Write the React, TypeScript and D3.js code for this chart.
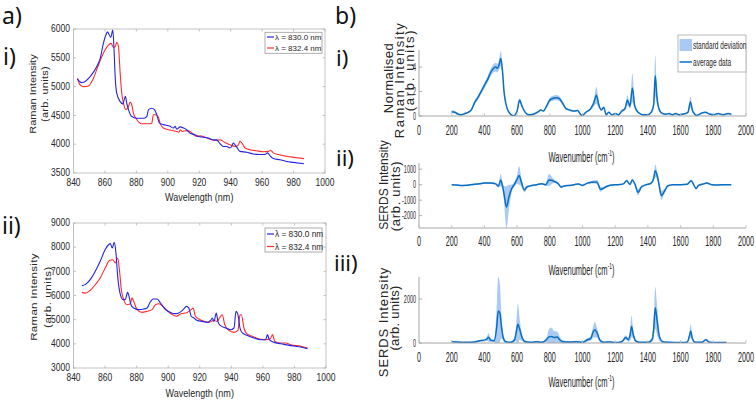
import React from "react";
import * as d3 from "d3";

const FONT = "'Liberation Sans', Arial, sans-serif";
const BIG = "'Noto Sans', 'Open Sans', sans-serif";

// ---------- data: panel a ----------
const A_XTICKS = [840, 860, 880, 900, 920, 940, 960, 980, 1000];
const A1_YTICKS = [3500, 4000, 4500, 5000, 5500, 6000];
const A2_YTICKS = [3000, 4000, 5000, 6000, 7000, 8000, 9000];
const LEGEND_A = ["λ = 830.0 nm", "λ = 832.4 nm"];
const X_LABEL_A = "Wavelength (nm)";

// a-i, excitation 830.0 nm  [wavelength nm, intensity]
const A1_BLUE: [number, number][] = [
  [842.5, 5130], [845.3, 5070], [850.6, 5175], [854.8, 5350], [857, 5490], [859, 5750],
  [860.8, 5910], [861.6, 5950], [863.7, 5855], [865, 5980], [865.8, 5640], [866.5, 5175],
  [867.5, 4885], [869.7, 4740], [871.4, 4700], [872.2, 4770], [873, 4830], [873.9, 4710],
  [875, 4600], [876.7, 4490], [880.3, 4450], [884.5, 4450], [886.6, 4480], [887.7, 4600],
  [889.8, 4625], [891.5, 4600], [893, 4510], [894.7, 4365], [897.2, 4340], [901.4, 4310],
  [903.6, 4280], [904.6, 4310], [905.7, 4260], [907.8, 4300], [910, 4280], [912, 4250],
  [914.2, 4190], [917.3, 4165], [919.4, 4135], [922.6, 4120], [925.8, 4105], [929, 4075],
  [931, 4075], [933.2, 4010], [935.3, 3960], [937.5, 3960], [939.6, 3935], [940.6, 3960],
  [941.7, 4020], [942.8, 3990], [944.2, 3935], [945.9, 3875], [950.2, 3860], [954.4, 3830],
  [958.6, 3820], [961.8, 3820], [963.5, 3850], [965, 3800], [967.1, 3750], [971.4, 3730],
  [975.6, 3700], [979.8, 3685], [986.6, 3660],
];
// a-i, excitation 832.4 nm
const A1_RED: [number, number][] = [
  [842.5, 5145], [844.2, 5030], [846.4, 5000], [849.5, 5010], [852.7, 5145], [855.9, 5380],
  [859, 5580], [862.2, 5720], [863.9, 5750], [865.4, 5680], [866.5, 5690], [867.5, 5770],
  [868.6, 5690], [869.7, 5230], [870.7, 4885], [871.8, 4710], [873.5, 4600], [875, 4655],
  [876, 4730], [877.1, 4680], [878.1, 4540], [880.3, 4425], [883.4, 4355], [886.6, 4355],
  [889.8, 4365], [890.8, 4510], [892.5, 4510], [894, 4470], [895.1, 4365], [897.2, 4280],
  [900.4, 4250], [903.6, 4235], [905.7, 4220], [907.2, 4210], [907.8, 4250], [909.3, 4220],
  [912, 4235], [914.2, 4220], [916.3, 4165], [918.4, 4135], [920.5, 4145], [923.7, 4120],
  [926.9, 4090], [930, 4065], [933.2, 4075], [936.4, 4030], [939.6, 3990], [942.8, 3960],
  [944.9, 3990], [945.9, 4050], [947.4, 4010], [949.1, 3935], [952.3, 3905], [956.5, 3885],
  [960.8, 3870], [963.9, 3875], [965.4, 3895], [967.1, 3850], [970.3, 3820], [975.6, 3790],
  [980.9, 3770], [986.6, 3750],
];
// a-ii, excitation 830.0 nm
const A2_BLUE: [number, number][] = [
  [845.3, 6407], [847.4, 6450], [850.6, 6655], [853.8, 7000], [856.9, 7415], [860.1, 7900],
  [862.2, 8100], [863.3, 8145], [864.6, 7965], [865.8, 8200], [866.9, 7760], [868, 6790],
  [869.7, 6035], [871.4, 5830], [872.8, 5830], [874.3, 6130], [875.2, 5965], [876.4, 5620],
  [878.1, 5480], [881.3, 5415], [884.5, 5440], [886.6, 5480], [888.3, 5690], [890.4, 5855],
  [893, 5855], [895.1, 5690], [898.3, 5415], [901.4, 5300], [904.6, 5250], [906.7, 5275],
  [909.5, 5415], [911.6, 5550], [913.1, 5480], [914.6, 5140], [916.3, 5070], [918.4, 4970],
  [921.6, 4930], [924.7, 4890], [926.9, 4970], [928, 5070], [929, 4930], [930.5, 5275],
  [931.5, 4930], [933.2, 4750], [936.4, 4655], [939.6, 4585], [941.7, 4655], [943, 5345],
  [944.2, 5205], [945.5, 4655], [947, 4450], [950.2, 4340], [954.4, 4240], [958.6, 4170],
  [961.8, 4170], [962.9, 4380], [964.1, 4170], [967.1, 4060], [971.4, 4005], [977.7, 3925],
  [984.1, 3870], [988.3, 3800],
];
// a-ii, excitation 832.4 nm
const A2_RED: [number, number][] = [
  [845.3, 6130], [847.4, 6100], [850.6, 6215], [853.8, 6450], [856.9, 6725], [860.1, 7140],
  [862.9, 7455], [865, 7480], [866.5, 7345], [868, 7550], [869.2, 7000], [870.3, 6240],
  [871.8, 5830], [873.9, 5620], [876, 5660], [877.1, 5900], [878.1, 5760], [880.3, 5415],
  [883.4, 5300], [886.6, 5345], [889.8, 5415], [891.9, 5620], [894, 5660], [896.1, 5580],
  [899.3, 5385], [902.5, 5210], [905.3, 5140], [907.8, 5235], [912, 5300], [914.6, 5415],
  [915.8, 5480], [917.3, 5140], [919.4, 5030], [922.6, 4930], [925.8, 4890], [929, 4970],
  [931, 4930], [933.2, 5140], [934.3, 5205], [935.8, 4800], [938.5, 4555], [941.7, 4475],
  [944.2, 4555], [945.5, 5205], [946.4, 5205], [948, 4655], [949.7, 4420], [953.3, 4310],
  [957.6, 4200], [961.8, 4170], [964.6, 4200], [966.1, 4380], [967.6, 4100], [971.4, 4035],
  [974.5, 4035], [977.7, 3965], [984.1, 3900], [988.3, 3830],
];

// ---------- data: panel b ----------
const B_XTICKS = [0, 200, 400, 600, 800, 1000, 1200, 1400, 1600, 1800, 2000];
const B1_YTICKS = [0, 2, 4];
const B2_YTICKS = [-2000, -1000, 0, 1000];
const B3_YTICKS = [0, 2000];
const LEGEND_B = ["standard deviation", "average data"];

// [wavenumber cm-1, mean, standard deviation]
const B1_DATA: [number, number, number][] = [
  [200, 0.35, 0.12], [220, 0.3, 0.1], [240, 0.15, 0.08], [260, 0.1, 0.06], [280, 0.2, 0.06],
  [300, 0.3, 0.06], [320, 0.5, 0.1], [340, 1.1, 0.15], [360, 1.5, 0.18], [380, 2.0, 0.2],
  [400, 2.5, 0.22], [420, 3.0, 0.25], [440, 3.6, 0.3], [460, 3.95, 0.35], [470, 4.0, 0.35],
  [480, 3.9, 0.35], [490, 4.2, 0.4], [500, 4.7, 0.6], [510, 3.8, 0.4], [520, 2.0, 0.2],
  [530, 1.1, 0.12], [540, 0.6, 0.08], [560, 0.15, 0.05], [580, 0.02, 0.05], [600, 0.4, 0.08],
  [615, 1.3, 0.15], [630, 0.8, 0.1], [650, 0.3, 0.06], [670, 0.1, 0.05], [700, 0.15, 0.05],
  [730, 0.35, 0.06], [745, 0.5, 0.08], [760, 0.4, 0.06], [780, 0.8, 0.12], [800, 1.3, 0.2],
  [820, 1.45, 0.2], [840, 1.5, 0.22], [860, 1.4, 0.2], [880, 1.0, 0.15], [900, 0.6, 0.1],
  [920, 0.5, 0.08], [950, 0.4, 0.06], [970, 0.45, 0.06], [990, 0.1, 0.05], [1000, 0.05, 0.05],
  [1020, 0.3, 0.06], [1050, 0.6, 0.12], [1070, 1.1, 0.3], [1085, 1.7, 0.7], [1100, 0.9, 0.25],
  [1115, 0.5, 0.1], [1130, 0.7, 0.12], [1145, 0.1, 0.05], [1160, 0.3, 0.06], [1180, 0.1, 0.05],
  [1200, 0.2, 0.05], [1220, 0.1, 0.05], [1240, 0.4, 0.08], [1260, 0.6, 0.15], [1275, 1.3, 0.4],
  [1290, 0.8, 0.2], [1305, 2.3, 1.2], [1320, 0.8, 0.2], [1340, 0.3, 0.06], [1370, 0.1, 0.05],
  [1400, 0.1, 0.05], [1420, 0.3, 0.08], [1435, 0.9, 0.4], [1445, 3.3, 1.7], [1455, 1.6, 0.6],
  [1470, 0.5, 0.12], [1490, 0.2, 0.05], [1510, 0.15, 0.05], [1530, 0.2, 0.05], [1550, 0.1, 0.05],
  [1570, 0.2, 0.05], [1590, 0.1, 0.05], [1610, 0.15, 0.05], [1630, 0.2, 0.05], [1645, 0.3, 0.1],
  [1660, 1.15, 0.45], [1675, 0.35, 0.1], [1700, 0.05, 0.05], [1730, 0.25, 0.05], [1750, 0.3, 0.05],
  [1780, 0.15, 0.05], [1800, 0.1, 0.05], [1830, 0.2, 0.05], [1860, 0.1, 0.05], [1890, 0.2, 0.05],
  [1910, 0.15, 0.05],
];
const B2_DATA: [number, number, number][] = [
  [200, 0, 40], [230, -20, 40], [260, -60, 40], [300, -30, 40], [340, 20, 50], [370, 60, 50],
  [400, 100, 60], [440, 110, 60], [470, 50, 60], [485, -100, 80], [500, 300, 400], [510, -50, 200],
  [520, -600, 500], [535, -1450, 1350], [550, -800, 800], [565, -300, 300], [585, 50, 150],
  [600, 350, 300], [612, 600, 600], [625, 200, 300], [645, -350, 150], [660, -150, 100],
  [690, -50, 50], [720, 0, 50], [750, 60, 50], [775, 0, 60], [795, 300, 400], [810, 280, 250],
  [830, 200, 100], [850, 80, 80], [870, -150, 80], [890, -80, 50], [920, -50, 40], [950, 0, 40],
  [975, 50, 40], [1000, -50, 40], [1030, 100, 60], [1055, 150, 80], [1075, 180, 100],
  [1090, 150, 150], [1110, -300, 150], [1125, -250, 100], [1150, -100, 60], [1180, -20, 40],
  [1220, 0, 40], [1250, 50, 50], [1270, 250, 80], [1290, 20, 80], [1305, 300, 100], [1320, 50, 80],
  [1340, -500, 200], [1360, -150, 100], [1390, 0, 50], [1420, 100, 80], [1435, 400, 150],
  [1445, 900, 400], [1460, 450, 200], [1475, -400, 300], [1482, -700, 300], [1500, -450, 150],
  [1520, -100, 80], [1550, 0, 40], [1600, 0, 40], [1640, 20, 40], [1665, 250, 80], [1680, 0, 60],
  [1695, -250, 80], [1710, -50, 50], [1740, 50, 50], [1760, 100, 50], [1790, 0, 40],
  [1830, -20, 40], [1870, 0, 40], [1910, 0, 40],
];
const B3_DATA: [number, number, number][] = [
  [200, 60, 20], [230, 50, 20], [260, 30, 20], [300, 30, 20], [340, 50, 30], [370, 100, 40],
  [400, 130, 50], [415, 180, 80], [425, 260, 200], [440, 120, 80], [460, 100, 60], [475, 700, 900],
  [485, 1450, 1550], [495, 1350, 1300], [505, 700, 500], [515, 250, 150], [530, 60, 50],
  [560, 30, 30], [585, 150, 100], [595, 500, 400], [605, 850, 950], [615, 650, 500], [630, 250, 150],
  [650, 60, 50], [690, 30, 30], [720, 60, 40], [750, 30, 30], [780, 150, 100], [795, 280, 350],
  [810, 300, 400], [825, 250, 300], [845, 270, 250], [860, 150, 150], [880, 60, 60], [920, 40, 40],
  [960, 60, 40], [1000, 30, 30], [1030, 150, 80], [1050, 200, 100], [1065, 500, 250],
  [1075, 600, 350], [1090, 450, 200], [1105, 150, 80], [1130, 30, 30], [1170, 50, 30],
  [1200, 20, 20], [1240, 60, 40], [1265, 250, 100], [1280, 150, 80], [1292, 400, 300],
  [1300, 750, 500], [1310, 400, 200], [1325, 100, 60], [1350, 30, 30], [1400, 30, 30],
  [1425, 150, 100], [1435, 600, 400], [1445, 1600, 950], [1455, 1100, 700], [1470, 300, 200],
  [1490, 60, 40], [1530, 30, 30], [1600, 20, 20], [1640, 40, 30], [1655, 350, 200],
  [1662, 550, 300], [1672, 200, 100], [1690, 30, 30], [1730, 30, 30], [1755, 150, 50],
  [1775, 40, 30], [1820, 20, 20], [1880, 20, 20],
];

// ---------- styles ----------
const BLUE = "#2222e8";
const RED = "#ff2b2b";
const LINE_B = "#0a6fc4";
const BAND_B = "#a9cbf3";
const AXIS = "#b4b4b4";
const TXT = "#262626";

type TProps = {
  x: number; y: number; sx?: number; size: number; anchor?: string;
  fill?: string; family?: string; ls?: number; children: React.ReactNode;
};
// horizontal text, optionally condensed horizontally
function T({ x, y, sx = 1, size, anchor = "middle", fill = TXT, family = FONT, ls, children }: TProps) {
  return (
    <g transform={`translate(${x},${y})`}>
      <g transform={`scale(${sx},1)`}>
        <text
          x={0}
          y={0}
          fontSize={size}
          textAnchor={anchor as any}
          dominantBaseline="central"
          fill={fill}
          fontFamily={family}
          style={ls ? { letterSpacing: `${ls}px` } : undefined}
        >
          {children}
        </text>
      </g>
    </g>
  );
}
// vertical text reading bottom-to-top, centred on (x, y)
function VT({ x, y, sx = 1, size, fill = TXT, family = FONT, ls, children }: TProps) {
  return (
    <g transform={`translate(${x},${y})`}>
      <g transform={`scale(${sx},1)`}>
        <g transform="rotate(-90)">
          <text
            x={0}
            y={0}
            fontSize={size}
            textAnchor="middle"
            dominantBaseline="central"
            fill={fill}
            fontFamily={family}
            style={ls ? { letterSpacing: `${ls}px` } : undefined}
          >
            {children}
          </text>
        </g>
      </g>
    </g>
  );
}

type PanelAProps = {
  id: string; blue: [number, number][]; red: [number, number][];
  L: number; R: number; top: number; bottom: number;
  yDomain: [number, number]; yTicks: number[];
  legend: { x: number; y: number; w: number; h: number; r1: number; r2: number; fs: number };
  xlabY: number;
};
function PanelA({ id, blue, red, L, R, top, bottom, yDomain, yTicks, legend, xlabY }: PanelAProps) {
  const x = d3.scaleLinear().domain([840, 1000]).range([L, R]);
  const y = d3.scaleLinear().domain(yDomain).range([bottom, top]);
  const line = d3.line<[number, number]>().x((d) => x(d[0])).y((d) => y(d[1])).curve(d3.curveMonotoneX);
  return (
    <g>
      <clipPath id={id}>
        <rect x={L} y={top} width={R - L} height={bottom - top} />
      </clipPath>
      <rect x={L} y={top} width={R - L} height={bottom - top} fill="none" stroke={AXIS} strokeWidth={0.8} />
      {A_XTICKS.map((t) => (
        <g key={"x" + t}>
          <line x1={x(t)} x2={x(t)} y1={bottom} y2={bottom - 2.5} stroke={AXIS} strokeWidth={0.8} />
          <line x1={x(t)} x2={x(t)} y1={top} y2={top + 2.5} stroke={AXIS} strokeWidth={0.8} />
          <T x={x(t)} y={bottom + 10} size={10} sx={0.85}>{t}</T>
        </g>
      ))}
      {yTicks.map((t) => (
        <g key={"y" + t}>
          <line x1={L} x2={L + 2.5} y1={y(t)} y2={y(t)} stroke={AXIS} strokeWidth={0.8} />
          <line x1={R} x2={R - 2.5} y1={y(t)} y2={y(t)} stroke={AXIS} strokeWidth={0.8} />
          <T x={L - 3.5} y={y(t)} size={10} sx={0.85} anchor="end">{t}</T>
        </g>
      ))}
      <g clipPath={`url(#${id})`}>
        <path d={line(red) || ""} fill="none" stroke={RED} strokeWidth={1.1} />
        <path d={line(blue) || ""} fill="none" stroke={BLUE} strokeWidth={1.1} />
      </g>
      <T x={(L + R) / 2} y={xlabY} size={11} sx={0.82}>{X_LABEL_A}</T>
      <rect x={legend.x} y={legend.y} width={legend.w} height={legend.h} fill="#fff" stroke="#9a9a9a" strokeWidth={0.8} />
      <line x1={legend.x + 2} x2={legend.x + 9} y1={legend.r1} y2={legend.r1} stroke={BLUE} strokeWidth={1.2} />
      <line x1={legend.x + 2} x2={legend.x + 9} y1={legend.r2} y2={legend.r2} stroke={RED} strokeWidth={1.2} />
      <T x={legend.x + 10} y={legend.r1} size={legend.fs} anchor="start">{LEGEND_A[0]}</T>
      <T x={legend.x + 10} y={legend.r2} size={legend.fs} anchor="start">{LEGEND_A[1]}</T>
    </g>
  );
}

type PanelBProps = {
  id: string; data: [number, number, number][];
  top: number; bottom: number; yDomain: [number, number]; yTicks: number[];
  tickY: number; xlabY: number; rightSpine?: boolean;
};
const BL = 419, BR = 746;
function PanelB({ id, data, top, bottom, yDomain, yTicks, tickY, xlabY, rightSpine }: PanelBProps) {
  const x = d3.scaleLinear().domain([0, 2000]).range([BL, BR]);
  const y = d3.scaleLinear().domain(yDomain).range([bottom, top]);
  const area = d3.area<[number, number, number]>()
    .x((d) => x(d[0]))
    .y0((d) => y(d[1] - d[2]))
    .y1((d) => y(d[1] + d[2]))
    .curve(d3.curveMonotoneX);
  const line = d3.line<[number, number, number]>().x((d) => x(d[0])).y((d) => y(d[1])).curve(d3.curveMonotoneX);
  return (
    <g>
      <clipPath id={id}>
        <rect x={BL} y={top - 1} width={BR - BL} height={bottom - top + 1} />
      </clipPath>
      <g clipPath={`url(#${id})`}>
        <path d={area(data) || ""} fill={BAND_B} stroke="none" />
        <path d={line(data) || ""} fill="none" stroke={LINE_B} strokeWidth={1.5} />
      </g>
      <line x1={BL} x2={BL} y1={top} y2={bottom} stroke="#9c9c9c" strokeWidth={0.9} />
      <line x1={BL} x2={BR} y1={bottom} y2={bottom} stroke="#9c9c9c" strokeWidth={0.9} />
      {rightSpine && <line x1={BR} x2={BR} y1={top} y2={bottom} stroke="#bdbdbd" strokeWidth={0.9} />}
      {B_XTICKS.map((t) => (
        <g key={"x" + t}>
          <line x1={x(t)} x2={x(t)} y1={bottom} y2={bottom - 3} stroke="#bdbdbd" strokeWidth={0.8} />
          <T x={x(t)} y={tickY} size={14.5} sx={0.5}>{t}</T>
        </g>
      ))}
      {yTicks.map((t) => (
        <g key={"y" + t}>
          <line x1={BL} x2={BL + 3} y1={y(t)} y2={y(t)} stroke="#9c9c9c" strokeWidth={0.8} />
          <T x={BL - 3} y={y(t)} size={10.5} sx={0.52} anchor="end">{t}</T>
        </g>
      ))}
      <g transform={`translate(${(BL + BR) / 2 - 1},${xlabY})`}>
        <g transform="scale(0.52,1)">
          <text x={0} y={0} fontSize={14.5} textAnchor="middle" dominantBaseline="central" fill={TXT} fontFamily={FONT}>
            Wavenumber (cm<tspan dy={-5} fontSize={9.5}>-1</tspan><tspan dy={5}>)</tspan>
          </text>
        </g>
      </g>
    </g>
  );
}

export default function App() {
  return (
    <svg
      width={756}
      height={403}
      viewBox="0 0 756 403"
      style={{ position: "absolute", left: 0, top: 0, background: "#fff" }}
    >
      <rect x={0} y={0} width={756} height={403} fill="#fff" />

      {/* panel letters */}
      <T x={2} y={15} size={23} anchor="start" family={BIG} fill="#111">a)</T>
      <T x={3} y={56} size={23} anchor="start" family={BIG} fill="#111">i)</T>
      <T x={2} y={225} size={23} anchor="start" family={BIG} fill="#111">ii)</T>
      <T x={335} y={15} size={23} anchor="start" family={BIG} fill="#111">b)</T>
      <T x={336} y={57} size={22} anchor="start" family={BIG} fill="#111">i)</T>
      <T x={336} y={157} size={22} anchor="start" family={BIG} fill="#111">ii)</T>
      <T x={334} y={262} size={22} anchor="start" family={BIG} fill="#111">iii)</T>

      {/* panel a */}
      <PanelA
        id="ca1" blue={A1_BLUE} red={A1_RED} L={73.5} R={325} top={29} bottom={173}
        yDomain={[3500, 6000]} yTicks={A1_YTICKS}
        legend={{ x: 265, y: 32.3, w: 57, h: 21, r1: 37, r2: 48, fs: 8 }}
        xlabY={197}
      />
      <PanelA
        id="ca2" blue={A2_BLUE} red={A2_RED} L={73.5} R={326} top={223} bottom={368}
        yDomain={[3000, 9000]} yTicks={A2_YTICKS}
        legend={{ x: 265, y: 228, w: 57, h: 24, r1: 234, r2: 246.5, fs: 8.3 }}
        xlabY={393}
      />
      <VT x={33} y={94} size={11} sx={0.85}>Raman Intensity</VT>
      <VT x={45} y={94} size={11} sx={0.85} ls={0.3}>(arb. units)</VT>
      <VT x={33} y={297} size={11.5} sx={0.85} ls={0.3}>Raman Intensity</VT>
      <VT x={47} y={297} size={11.5} sx={0.85} ls={0.6}>(arb. units)</VT>

      {/* panel b */}
      <PanelB id="cb1" data={B1_DATA} top={50} bottom={116} yDomain={[0, 5.4]} yTicks={B1_YTICKS}
        tickY={130} xlabY={157} rightSpine />
      <PanelB id="cb2" data={B2_DATA} top={163} bottom={228} yDomain={[-2800, 1400]} yTicks={B2_YTICKS}
        tickY={241} xlabY={270} />
      <PanelB id="cb3" data={B3_DATA} top={277} bottom={343} yDomain={[0, 3000]} yTicks={B3_YTICKS}
        tickY={357} xlabY={382} />

      <VT x={388} y={78} size={13} ls={0.45}>Normalised</VT>
      <VT x={399} y={80} size={13} ls={1.5}>Raman Intensity</VT>
      <VT x={409} y={70} size={13} ls={1.7}>(arb. units)</VT>
      <VT x={384} y={185} size={12}>SERDS Intensity</VT>
      <VT x={395} y={196} size={13} ls={0.7}>(arb. units)</VT>
      <VT x={383} y={322} size={13} ls={0.9}>SERDS Intensity</VT>
      <VT x={394} y={318} size={13} ls={0.25}>(arb. units)</VT>

      {/* legend b */}
      <rect x={678} y={35} width={68} height={37} fill="#fff" stroke="#a8a8a8" strokeWidth={0.8} />
      <rect x={679.5} y={39} width={12.5} height={12} fill={BAND_B} />
      <line x1={679.5} x2={692} y1={62} y2={62} stroke={LINE_B} strokeWidth={1.5} />
      <T x={693} y={45} size={11.5} sx={0.57} anchor="start">{LEGEND_B[0]}</T>
      <T x={693} y={62} size={11.5} sx={0.57} anchor="start">{LEGEND_B[1]}</T>
    </svg>
  );
}
